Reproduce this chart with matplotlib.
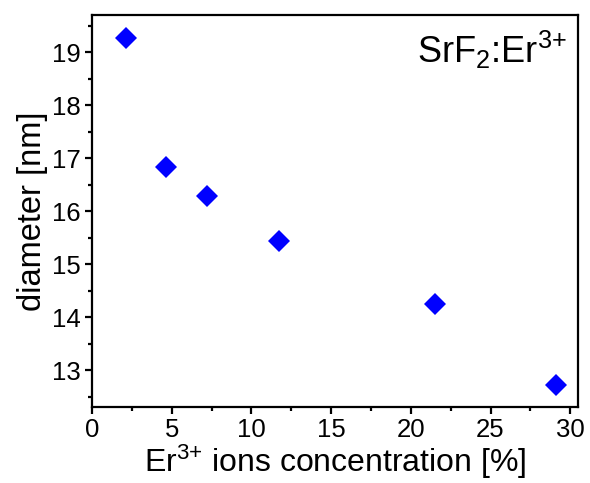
import matplotlib
matplotlib.use("Agg")
import matplotlib.pyplot as plt
from matplotlib.ticker import MultipleLocator

plt.rcParams['font.family'] = ['Liberation Sans', 'DejaVu Sans']
plt.rcParams['mathtext.fontset'] = 'custom'
plt.rcParams['mathtext.rm'] = 'Liberation Sans'
plt.rcParams['mathtext.it'] = 'Liberation Sans:italic'

# Er3+ concentration [%] vs particle diameter [nm]
concentration = [2.1, 4.65, 7.2, 11.7, 21.5, 29.1]
diameter = [19.26, 16.83, 16.29, 15.44, 14.24, 12.71]

fig = plt.figure(figsize=(5.9, 4.83), dpi=100)
ax = fig.add_axes([0.156, 0.157, 0.824, 0.812])

ax.plot(concentration, diameter, linestyle='none', marker='D', markersize=11.5,
        color='#0000ff', markeredgewidth=0)

ax.set_xlim(0, 30.5)
ax.set_ylim(12.3, 19.7)
ax.xaxis.set_major_locator(MultipleLocator(5))
ax.xaxis.set_minor_locator(MultipleLocator(2.5))
ax.yaxis.set_major_locator(MultipleLocator(1))
ax.yaxis.set_minor_locator(MultipleLocator(0.5))

for s in ax.spines.values():
    s.set_linewidth(1.6)
ax.tick_params(which='major', direction='out', length=5, width=1.6, labelsize=18.5, pad=3)
ax.tick_params(which='minor', direction='out', length=3, width=1.6)

ax.set_xlabel(r'Er$\mathregular{^{3{+}}}$ ions concentration [%]', fontsize=23, labelpad=0)
ax.set_ylabel('diameter [nm]', fontsize=23.5, labelpad=3)

ax.text(0.977, 0.965, r'SrF$\mathregular{_2}$:Er$\mathregular{^{3{+}}}$', transform=ax.transAxes,
        ha='right', va='top', fontsize=26)

fig.savefig('out.png', dpi=100)
